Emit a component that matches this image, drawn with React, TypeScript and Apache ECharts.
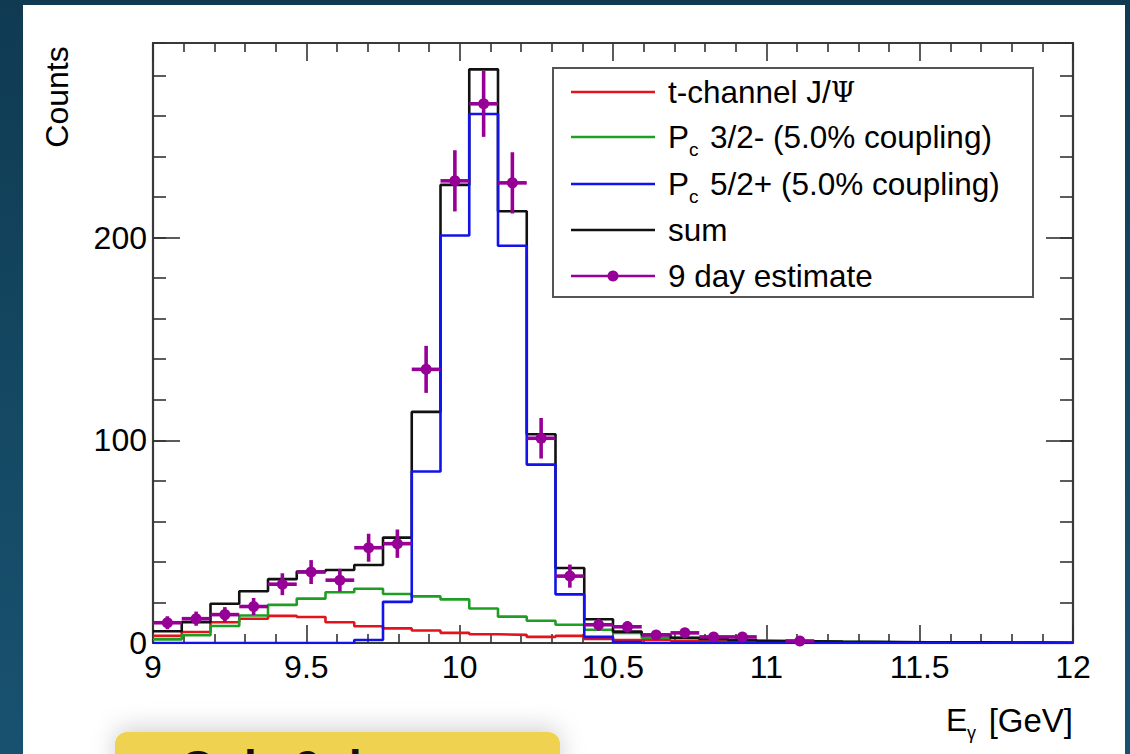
import React, { useEffect, useRef } from "react";
import * as echarts from "echarts";

// ---- histogram binning (32 bins from 9 to 12 GeV) ----
const X_MIN = 9;
const X_MAX = 12;
const N_BINS = 32;
const BIN_W = (X_MAX - X_MIN) / N_BINS;
const Y_MAX = 296;

// ---- series values (counts per bin) ----
const tChannel = [3.5, 5.4, 10.2, 12, 13.4, 12.8, 10.2, 8.3, 7.2, 6.2, 5, 4.3, 4, 3, 3.5, 2, 1.5, 1.5, 1.1, 0.9, 0.7, 0.6, 0.5, 0.4, 0.3, 0.25, 0.2, 0.15, 0.1, 0.1, 0.05, 0.05];
const pc32 = [1.8, 3.8, 8.4, 13.6, 18.8, 21.9, 25, 26.8, 24.2, 23, 21.5, 17, 13, 11, 9, 6.5, 5, 2.6, 2.4, 2, 1.2, 1, 0.8, 0.6, 0.5, 0.4, 0.3, 0.2, 0.2, 0.1, 0.1, 0.1];
const pc52 = [0, 0, 0, 0, 0, 0, 0, 1.5, 20.3, 84.6, 201, 261, 196, 88, 24, 3, 0.5, 0, 0, 0, 0, 0, 0, 0, 0, 0, 0, 0, 0, 0, 0, 0];
const sumHist = [5.8, 10.3, 19.4, 25.5, 31.5, 35.3, 36, 38.5, 52, 114, 226, 283, 213, 103, 37, 11.7, 5.6, 4, 2.6, 2, 1.4, 1, 0.9, 0.7, 0.6, 0.5, 0.4, 0.3, 0.3, 0.2, 0.2, 0.1];
const estimate = [10, 12, 14, 18, 29, 35, 31, 47, 49, 135, 228, 266, 227, 101, 33, 9, 8, 4, 5, 3, 3, 0, 1];
const estimateErr = [3.2, 3.5, 3.7, 4.2, 5.4, 5.9, 5.6, 6.9, 7, 11.6, 15.1, 16.3, 15.1, 10, 5.7, 3, 2.8, 2, 2.2, 1.7, 1.7, 0, 1];

const legendLabels = ["t-channel J/", "P", "P", "sum", "9 day estimate"];

const RED = "#e3121b";
const GREEN = "#1f9e24";
const BLUE = "#1212ea";
const BLACK = "#111111";
const PURPLE = "#960096";
const FONT = "Liberation Sans";

function stepData(vals: number[]) {
  const d: number[][] = [];
  for (let i = 0; i < vals.length; i++) d.push([X_MIN + i * BIN_W, vals[i]]);
  d.push([X_MIN + vals.length * BIN_W, vals[vals.length - 1]]);
  return d;
}

function histSeries(name: string, vals: number[], color: string, z: number) {
  return {
    name,
    type: "line",
    step: "end",
    data: stepData(vals),
    symbol: "none",
    lineStyle: { color, width: 2.6 },
    xAxisIndex: 0,
    yAxisIndex: 0,
    z,
    clip: true,
  };
}

export default function App() {
  const ref = useRef<HTMLDivElement>(null);
  useEffect(() => {
    if (!ref.current) return;
    const chart = echarts.init(ref.current, null, { renderer: "svg" });

    const pts: number[][] = [];
    estimate.forEach((v, i) => {
      if (v > 0) pts.push([X_MIN + (i + 0.5) * BIN_W, v, estimateErr[i], BIN_W / 2]);
    });

    const axisLineStyle = { color: "#3a3a3a", width: 2.2 };
    const tickStyle = { color: "#333", width: 1.6 };
    const xAxisBase = (pos: string, labels: boolean) => ({
      type: "value",
      position: pos,
      min: X_MIN,
      max: X_MAX,
      interval: 0.5,
      axisLine: { show: true, onZero: false, lineStyle: axisLineStyle },
      axisTick: { show: true, inside: true, length: 18, lineStyle: tickStyle },
      minorTick: { show: true, splitNumber: 5, length: 9, lineStyle: tickStyle },
      splitLine: { show: false },
      axisLabel: labels
        ? { show: true, fontSize: 32, color: "#000", fontFamily: FONT, margin: 8 }
        : { show: false },
    });
    const yMajor = (pos: string, labels: boolean) => ({
      type: "value",
      position: pos,
      min: 0,
      max: Y_MAX,
      interval: 100,
      axisLine: { show: true, onZero: false, lineStyle: axisLineStyle },
      axisTick: { show: true, inside: true, length: 27, lineStyle: tickStyle },
      splitLine: { show: false },
      axisLabel: labels
        ? {
            show: true,
            fontSize: 32,
            color: "#000",
            fontFamily: FONT,
            margin: 6,
            showMaxLabel: false,
            formatter: (v: number) => (v % 100 === 0 ? String(v) : ""),
          }
        : { show: false },
    });
    const yMinor = (pos: string) => ({
      type: "value",
      position: pos,
      min: 0,
      max: Y_MAX,
      interval: 20,
      axisLine: { show: false },
      axisTick: { show: true, inside: true, length: 13, lineStyle: tickStyle },
      splitLine: { show: false },
      axisLabel: { show: false },
    });

    const rowsY = [92, 137, 184, 230, 276];
    const legendColors = [RED, GREEN, BLUE, BLACK, PURPLE];
    const lx1 = 571, lx2 = 655, tx = 668;
    const legendChildren: any[] = [
      {
        type: "rect",
        shape: { x: 553, y: 68, width: 480, height: 229 },
        style: { fill: "#fff", stroke: "#555", lineWidth: 2 },
      },
    ];
    rowsY.forEach((y, i) => {
      legendChildren.push({
        type: "line",
        shape: { x1: lx1, y1: y, x2: lx2, y2: y },
        style: { stroke: legendColors[i], lineWidth: 2.6 },
      });
    });
    legendChildren.push({
      type: "circle",
      shape: { cx: (lx1 + lx2) / 2, cy: rowsY[4], r: 5.5 },
      style: { fill: PURPLE },
    });
    const tStyle = (text: string, x: number, y: number, size = 31.5) => ({
      type: "text",
      x,
      y,
      style: {
        text,
        fontSize: size,
        fontFamily: FONT,
        fill: "#000",
        verticalAlign: "middle",
      },
    });
    legendChildren.push({
      type: "text",
      x: tx,
      y: rowsY[0],
      style: {
        text: legendLabels[0] + "{psi|Ψ}",
        fontSize: 31.5,
        fontFamily: FONT,
        fill: "#000",
        verticalAlign: "middle",
        rich: { psi: { fontFamily: "DejaVu Serif", fontSize: 28, fill: "#000" } },
      },
    });
    legendChildren.push(tStyle(legendLabels[1], tx, rowsY[1]));
    legendChildren.push(tStyle("c", tx + 21, rowsY[1] + 12, 19));
    legendChildren.push(tStyle("3/2- (5.0% coupling)", tx + 42, rowsY[1]));
    legendChildren.push(tStyle(legendLabels[2], tx, rowsY[2]));
    legendChildren.push(tStyle("c", tx + 21, rowsY[2] + 12, 19));
    legendChildren.push(tStyle("5/2+ (5.0% coupling)", tx + 42, rowsY[2]));
    legendChildren.push(tStyle(legendLabels[3], tx, rowsY[3]));
    legendChildren.push(tStyle(legendLabels[4], tx, rowsY[4]));

    const option: any = {
      animation: false,
      backgroundColor: "transparent",
      grid: { left: 153, right: 57, top: 43, bottom: 111, show: false, containLabel: false },
      xAxis: [xAxisBase("bottom", true), xAxisBase("top", false)],
      yAxis: [yMajor("left", true), yMinor("left"), yMajor("right", false), yMinor("right")],
      series: [
        histSeries("t-channel J/Ψ", tChannel, RED, 2),
        histSeries("Pc 3/2- (5.0% coupling)", pc32, GREEN, 3),
        histSeries("sum", sumHist, BLACK, 4),
        histSeries("Pc 5/2+ (5.0% coupling)", pc52, BLUE, 5),
        {
          name: "9 day estimate",
          type: "custom",
          xAxisIndex: 0,
          yAxisIndex: 0,
          z: 6,
          encode: { x: 0, y: 1 },
          data: pts,
          renderItem: (params: any, api: any) => {
            const x = api.value(0);
            const y = api.value(1);
            const e = api.value(2);
            const hw = api.value(3);
            const c = api.coord([x, y]);
            const l = api.coord([x - hw, y]);
            const r = api.coord([x + hw, y]);
            const t = api.coord([x, y + e]);
            const b = api.coord([x, y - e]);
            const st = { stroke: PURPLE, lineWidth: 3.6 };
            return {
              type: "group",
              children: [
                { type: "line", shape: { x1: l[0], y1: c[1], x2: r[0], y2: c[1] }, style: st },
                { type: "line", shape: { x1: c[0], y1: t[1], x2: c[0], y2: b[1] }, style: st },
                { type: "circle", shape: { cx: c[0], cy: c[1], r: 5.5 }, style: { fill: PURPLE } },
              ],
            };
          },
        },
      ],
      graphic: [
        { type: "group", children: legendChildren, z: 10 },
        {
          type: "text",
          x: 57,
          y: 97,
          rotation: Math.PI / 2,
          style: {
            text: "Counts",
            fontSize: 32,
            fontFamily: FONT,
            fill: "#000",
            align: "center",
            verticalAlign: "middle",
          },
        },
        { type: "text", x: 946, y: 720, style: { text: "E", fontSize: 32, fontFamily: FONT, fill: "#000", verticalAlign: "middle" } },
        { type: "text", x: 967, y: 733, style: { text: "γ", fontSize: 18, fontFamily: FONT, fill: "#000", verticalAlign: "middle" } },
        { type: "text", x: 1073, y: 720, style: { text: "[GeV]", fontSize: 33, fontFamily: FONT, fill: "#000", align: "right", verticalAlign: "middle" } },
        {
          type: "rect",
          shape: { x: 115, y: 732, width: 445, height: 60, r: 12 },
          style: { fill: "#efd250", shadowBlur: 24, shadowColor: "rgba(0,0,0,0.18)", shadowOffsetY: -4 },
        },
        {
          type: "text",
          x: 180,
          y: 744,
          style: { text: "Only 9 days", fontSize: 46, fontWeight: "bold", fontFamily: FONT, fill: "#111", verticalAlign: "top" },
        },
      ],
    };
    chart.setOption(option);
    return () => chart.dispose();
  }, []);

  return (
    <div
      style={{
        position: "fixed",
        left: 0,
        top: 0,
        width: 1130,
        height: 754,
        background: "linear-gradient(180deg, #0f3a52 0%, #154a65 60%, #185170 100%)",
        overflow: "hidden",
      }}
    >
      <div style={{ position: "absolute", left: 23, top: 5, width: 1102, height: 749, background: "#fff" }} />
      <div ref={ref} style={{ position: "absolute", left: 0, top: 0, width: 1130, height: 754 }} />
    </div>
  );
}
